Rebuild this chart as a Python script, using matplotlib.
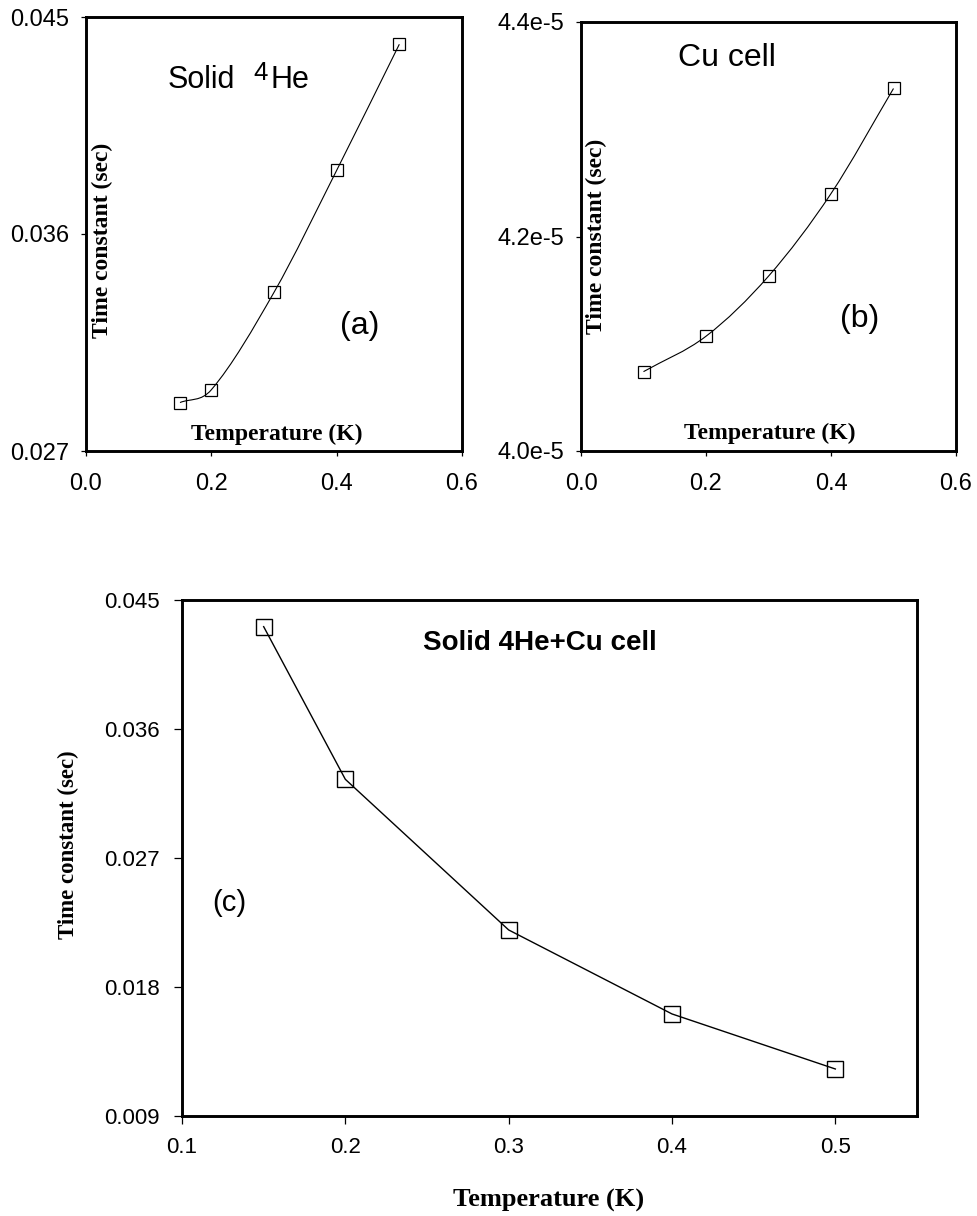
"""
Thermal time constants versus temperature: solid 4He, the Cu cell,
and the combined solid 4He + Cu cell.
"""

import matplotlib
matplotlib.use("Agg")
import matplotlib.pyplot as plt
import numpy as np
from matplotlib.path import Path
from matplotlib.patches import PathPatch
from matplotlib.ticker import FixedLocator, FuncFormatter

# (a) solid 4He
temp_a = [0.15, 0.2, 0.3, 0.4, 0.5]
tau_a = [0.02901, 0.02954, 0.03358, 0.03864, 0.04387]

# (b) Cu cell
temp_b = [0.1, 0.2, 0.3, 0.4, 0.5]
tau_b = [4.074e-5, 4.107e-5, 4.163e-5, 4.240e-5, 4.338e-5]

# (c) solid 4He + Cu cell
temp_c = [0.15, 0.2, 0.3, 0.4, 0.5]
tau_c = [0.04314, 0.03249, 0.02198, 0.01612, 0.01228]

xticks_ab = [0.0, 0.2, 0.4, 0.6]
yticks_a = [0.027, 0.036, 0.045]
yticks_b = [4.0e-5, 4.2e-5, 4.4e-5]
xticks_c = [0.1, 0.2, 0.3, 0.4, 0.5]
yticks_c = [0.009, 0.018, 0.027, 0.036, 0.045]

plt.rcParams["font.family"] = "Liberation Sans"

W, H = 977, 1216
fig = plt.figure(figsize=(W / 100, H / 100), dpi=100)
fig.patch.set_facecolor("white")

SERIF = dict(family="Liberation Serif", weight="bold")


def add_axes_px(left, top, right, bottom):
    return fig.add_axes([left / W, 1 - bottom / H, (right - left) / W, (bottom - top) / H])


def smooth_path(x, y):
    """Cubic Bezier path through the points (smoothed line)."""
    x = np.asarray(x, float)
    y = np.asarray(y, float)
    n = len(x)
    slopes = np.diff(y) / np.diff(x)
    m = np.empty(n)
    m[0], m[-1] = slopes[0], slopes[-1]
    m[1:-1] = (y[2:] - y[:-2]) / (x[2:] - x[:-2])
    verts = [(x[0], y[0])]
    codes = [Path.MOVETO]
    for i in range(n - 1):
        d = (x[i + 1] - x[i]) / 3
        verts += [(x[i] + d, y[i] + m[i] * d),
                  (x[i + 1] - d, y[i + 1] - m[i + 1] * d),
                  (x[i + 1], y[i + 1])]
        codes += [Path.CURVE4] * 3
    return Path(verts, codes)


def style_axes(ax, tick_len, fs, xpad, ypad):
    for s in ax.spines.values():
        s.set_linewidth(2.1)
    ax.tick_params(direction="out", length=tick_len, width=0.9, labelsize=fs,
                   top=False, right=False)
    ax.tick_params(axis="x", pad=xpad)
    ax.tick_params(axis="y", pad=ypad)


# ---- (a) ----
ax_a = add_axes_px(86, 17, 462, 451)
ax_a.add_patch(PathPatch(smooth_path(temp_a, tau_a), fill=False, lw=0.8, color="black"))
ax_a.plot(temp_a, tau_a, ls="none", marker="s", ms=8, mfc="none", mec="black", mew=0.9)
ax_a.set_xlim(0, 0.6)
ax_a.set_ylim(0.027, 0.045)
ax_a.xaxis.set_major_locator(FixedLocator(xticks_ab))
ax_a.yaxis.set_major_locator(FixedLocator(yticks_a))
ax_a.xaxis.set_major_formatter(FuncFormatter(lambda v, p: f"{v:.1f}"))
ax_a.yaxis.set_major_formatter(FuncFormatter(lambda v, p: f"{v:.3f}"))
style_axes(ax_a, 3.6, 17, 12, 8.5)
# "Solid 4He" with a large raised 4
ax_a.text(0.218, 0.836, "Solid", transform=ax_a.transAxes, ha="left", va="baseline",
          fontsize=22)
ax_a.text(0.444, 0.855, "4", transform=ax_a.transAxes, ha="left", va="baseline",
          fontsize=18.5)
ax_a.text(0.492, 0.836, "He", transform=ax_a.transAxes, ha="left", va="baseline",
          fontsize=22)
ax_a.text(0.729, 0.289, "(a)", transform=ax_a.transAxes, ha="center", va="center",
          fontsize=23)
ax_a.text(0.043, 0.485, "Time constant (sec)", transform=ax_a.transAxes, rotation=90,
          ha="center", va="center", fontsize=17, **SERIF)
ax_a.text(0.508, 0.039, "Temperature (K)", transform=ax_a.transAxes,
          ha="center", va="center", fontsize=17, **SERIF)

# ---- (b) ----
ax_b = add_axes_px(581, 22, 956, 451)
ax_b.add_patch(PathPatch(smooth_path(temp_b, tau_b), fill=False, lw=0.8, color="black"))
ax_b.plot(temp_b, tau_b, ls="none", marker="s", ms=8, mfc="none", mec="black", mew=0.9)
ax_b.set_xlim(0, 0.6)
ax_b.set_ylim(4.0e-5, 4.4e-5)
ax_b.xaxis.set_major_locator(FixedLocator(xticks_ab))
ax_b.yaxis.set_major_locator(FixedLocator(yticks_b))
ax_b.xaxis.set_major_formatter(FuncFormatter(lambda v, p: f"{v:.1f}"))
ax_b.yaxis.set_major_formatter(FuncFormatter(lambda v, p: f"{v * 1e5:.1f}e-5"))
ax_b.yaxis.get_offset_text().set_visible(False)
style_axes(ax_b, 3.6, 17, 12, 8.5)
ax_b.text(0.389, 0.915, "Cu cell", transform=ax_b.transAxes, ha="center", va="center",
          fontsize=23)
ax_b.text(0.744, 0.308, "(b)", transform=ax_b.transAxes, ha="center", va="center",
          fontsize=23)
ax_b.text(0.04, 0.5, "Time constant (sec)", transform=ax_b.transAxes, rotation=90,
          ha="center", va="center", fontsize=17, **SERIF)
ax_b.text(0.504, 0.042, "Temperature (K)", transform=ax_b.transAxes,
          ha="center", va="center", fontsize=17, **SERIF)

# ---- (c) ----
ax_c = add_axes_px(182, 600, 917, 1116)
ax_c.plot(temp_c, tau_c, color="black", lw=1.0, marker="s", ms=11, mfc="none",
          mec="black", mew=1.0)
ax_c.set_xlim(0.1, 0.55)
ax_c.set_ylim(0.009, 0.045)
ax_c.xaxis.set_major_locator(FixedLocator(xticks_c))
ax_c.yaxis.set_major_locator(FixedLocator(yticks_c))
ax_c.xaxis.set_major_formatter(FuncFormatter(lambda v, p: f"{v:.1f}"))
ax_c.yaxis.set_major_formatter(FuncFormatter(lambda v, p: f"{v:.3f}"))
style_axes(ax_c, 6, 16, 9, 10)
ax_c.text(0.487, 0.917, "Solid 4He+Cu cell", transform=ax_c.transAxes,
          ha="center", va="center", fontsize=20, weight="bold")
ax_c.text(0.064, 0.413, "(c)", transform=ax_c.transAxes, ha="center", va="center",
          fontsize=21)
ax_c.text(-0.155, 0.525, "Time constant (sec)", transform=ax_c.transAxes, rotation=90,
          ha="center", va="center", fontsize=16.5, **SERIF)
ax_c.text(0.499, -0.163, "Temperature (K)", transform=ax_c.transAxes,
          ha="center", va="center", fontsize=19, **SERIF)

fig.savefig("out.png", dpi=100, facecolor="white")
